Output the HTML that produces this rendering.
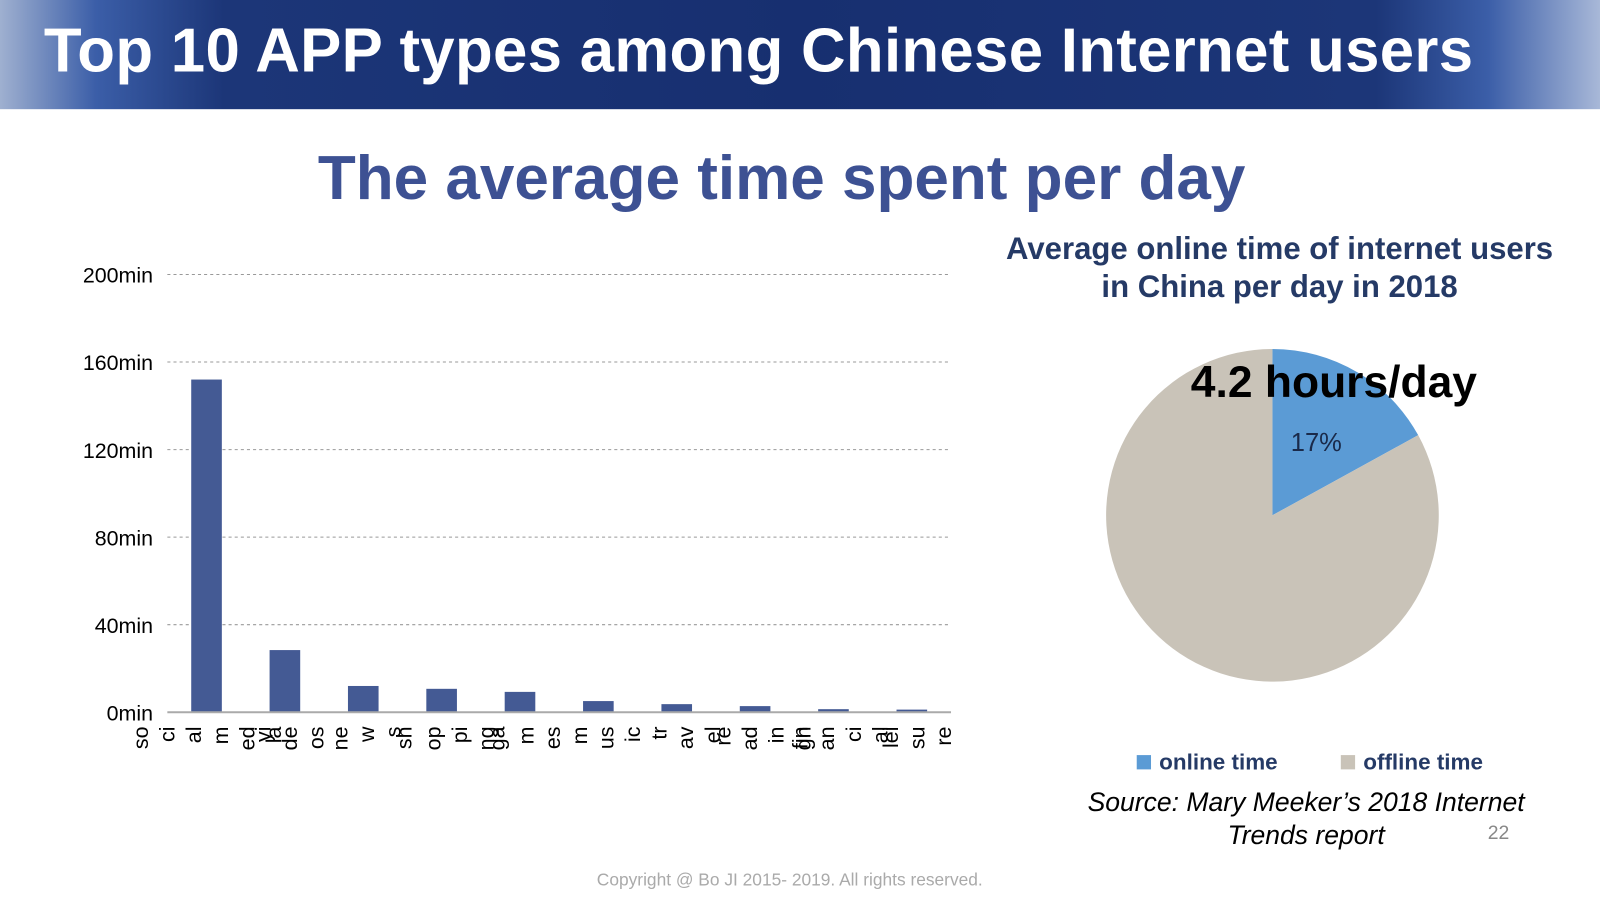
<!DOCTYPE html>
<html><head><meta charset="utf-8"><style>
body{margin:0;width:1600px;height:900px;background:#fff;position:relative;overflow:hidden;font-family:"Liberation Sans",Arial,sans-serif}
#wrap{position:absolute;left:0;top:0;width:1568px;height:882px;transform:scale(1.0204);transform-origin:0 0}
.abs{position:absolute}
</style></head><body>
<div id="wrap">
<div class="abs" style="left:0;top:0;width:1568px;height:107px;background:linear-gradient(90deg,#9fb0d0 0%,#3b5ea8 6%,#1c3678 14%,#172f70 50%,#1c3678 86%,#3b5ea8 93%,#a8b8d8 100%)"></div>
<div class="abs" style="left:43px;top:14px;font-size:60.5px;font-weight:bold;color:#fff;white-space:nowrap;letter-spacing:0.3px">Top 10 APP types among Chinese Internet users</div>
<div class="abs" style="left:0;width:1532px;top:139px;text-align:center;font-size:60.8px;font-weight:bold;color:#3d5193">The average time spent per day</div>
<div class="abs" style="left:960px;width:588px;top:226px;text-align:center;font-size:30.5px;font-weight:bold;color:#253a66;line-height:37px">Average online time of internet users<br>in China per day in 2018</div>
<svg class="abs" style="left:0;top:0" width="1600" height="900" id="svg"></svg>
<div class="abs" style="left:1167px;top:351px;font-size:43.5px;font-weight:bold;color:#000">4.2 hours/day</div>
<div class="abs" style="left:1114px;top:734px;font-size:22px;font-weight:bold;color:#253a66"><span style="display:inline-block;width:14px;height:14px;background:#5b9bd5;margin-right:8px"></span>online time</div>
<div class="abs" style="left:1314px;top:734px;font-size:22px;font-weight:bold;color:#253a66"><span style="display:inline-block;width:14px;height:14px;background:#c9c3b8;margin-right:8px"></span>offline time</div>
<div class="abs" style="left:1040px;width:480px;top:770px;text-align:center;font-size:26px;font-style:italic;color:#000;line-height:32px">Source: Mary Meeker’s 2018 Internet<br>Trends report</div>
<div class="abs" style="left:1458px;top:806px;font-size:19px;color:#888">22</div>
<div class="abs" style="left:0;width:1548px;top:853px;text-align:center;font-size:17px;color:#aaa">Copyright @ Bo JI 2015- 2019. All rights reserved.</div>
</div>
<script>
const categories=["c1","c2","c3","c4","c5","c6","c7","c8","c9","c10"];
const values=[152,28.4,12,10.7,9.3,5.1,3.7,2.8,1.4,1.2];
const yTicks=[0,40,80,120,160,200];
const tickLabels=["so","ci","al","m","ed","yi","la","de","os","ne","w","s","sh","op","pi","ng","ga","m","es","m","us","ic","tr","av","el","re","ad","in","fin","gn","an","ci","al","lei","su","re"];
const tickSlots=[0,1,2,3,4,4.6,5,5.6,6.6,7.5,8.5,9.5,9.9,11,12,13,13.4,14.5,15.5,16.5,17.5,18.5,19.5,20.5,21.5,21.9,22.9,23.9,24.8,24.9,25.8,26.8,27.8,28.2,29.2,30.2];
const pieShares=[17,83];
const NS="http://www.w3.org/2000/svg",svg=document.getElementById('svg');
function mk(t,a){const e=document.createElementNS(NS,t);for(const k in a)e.setAttribute(k,a[k]);svg.appendChild(e);return e;}
const x0=164,x1=932,yb=698,yt=269,ymax=200;
const y=v=>yb-(v/ymax)*(yb-yt);
const band=(x1-x0)/categories.length;
yTicks.forEach(t=>{
 if(t>0){const g=mk('line',{x1:x0,x2:x1,y1:y(t),y2:y(t),stroke:'#999','stroke-dasharray':'3,3','stroke-width':1});
 
 }
 const l=mk('text',{x:150,y:y(t)+8,'text-anchor':'end','font-size':21,fill:'#000','font-family':'Liberation Sans'});
 l.textContent=t+'min';
 
 
});
values.forEach((v,i)=>{
 const cx=x0+band*(i+0.5);
 const r=mk('rect',{x:cx-15,y:y(v),width:30,height:yb-y(v),fill:'#445a94'});
 
 
});
const ax=mk('line',{x1:x0,x2:x1,y1:yb,y2:yb,stroke:'#aaa','stroke-width':2});


const slotW=(920-138)/30;
tickLabels.forEach((s,i)=>{
 const lx=138+tickSlots[i]*slotW+7;
 const t=mk('text',{x:0,y:0,'text-anchor':'end','font-size':21,fill:'#000','font-family':'Liberation Sans',transform:`translate(${lx},712) rotate(-90)`});
 t.textContent=s;
 
 
});
const pcx=1247,pcy=505,pr=163;const cols=['#5b9bd5','#c9c3b8'];
let a=0;const tot=pieShares.reduce((p,c)=>p+c,0);
pieShares.forEach((s,i)=>{
 const a2=a+s/tot*2*Math.PI;
 const p=(ang)=>[pcx+pr*Math.sin(ang),pcy-pr*Math.cos(ang)];
 const [sx,sy]=p(a),[ex,ey]=p(a2);
 const path=mk('path',{d:`M${pcx},${pcy}L${sx},${sy}A${pr},${pr} 0 ${a2-a>Math.PI?1:0} 1 ${ex},${ey}Z`,fill:cols[i]});
 
 
 a=a2;
});
const pl=mk('text',{x:1290,y:442,'text-anchor':'middle','font-size':25,fill:'#1a2a4a','font-family':'Liberation Sans'});
pl.textContent=pieShares[0]+'%';


</script>
</body></html>
